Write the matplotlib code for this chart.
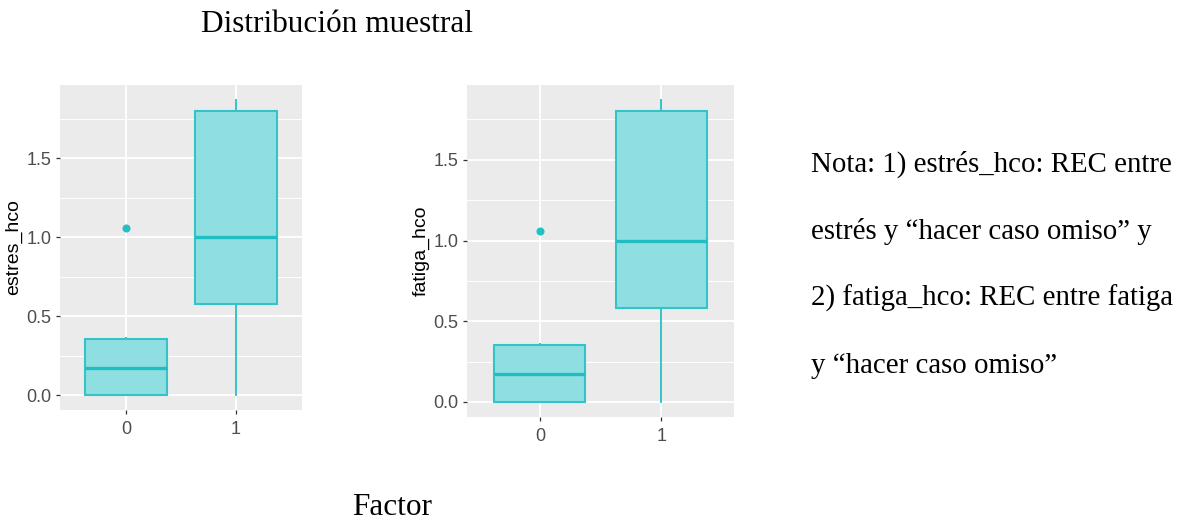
import matplotlib
matplotlib.use("Agg")
import matplotlib.pyplot as plt

# resumen de cajas por grupo (0 / 1)
grupos = ["0", "1"]
q1 = [0.0, 0.58]
mediana = [0.17, 1.0]
q3 = [0.355, 1.80]
bigote_inf = [0.0, 0.0]
bigote_sup = [0.36, 1.87]
atipicos = [[1.06], []]

variables = ["estres_hco", "fatiga_hco"]
ticks_y = [0.0, 0.5, 1.0, 1.5]
ticks_y_menores = [0.25, 0.75, 1.25, 1.75]

nota = [
    "Nota: 1) estrés_hco: REC entre",
    "estrés y \u201chacer caso omiso\u201d y",
    "2) fatiga_hco: REC entre fatiga",
    "y \u201chacer caso omiso\u201d",
]

RELLENO = "#8FDFE2"
BORDE = "#33C4C9"
MEDIANA = "#1FBEC3"
FONDO = "#EBEBEB"

fig = plt.figure(figsize=(11.86, 5.2), dpi=100)
posiciones = [
    [60 / 1186, 1 - 410 / 520, 242 / 1186, 325 / 520],
    [467 / 1186, 1 - 417 / 520, 267 / 1186, 332 / 520],
]

for var, pos in zip(variables, posiciones):
    ax = fig.add_axes(pos)
    stats = []
    for i in range(len(grupos)):
        stats.append(dict(q1=q1[i], med=mediana[i], q3=q3[i],
                          whislo=bigote_inf[i], whishi=bigote_sup[i],
                          fliers=atipicos[i], label=grupos[i]))
    ax.bxp(stats, positions=range(len(grupos)), widths=0.75,
           patch_artist=True, showcaps=False, zorder=3,
           boxprops=dict(facecolor=RELLENO, edgecolor=BORDE, linewidth=1.5),
           whiskerprops=dict(color=BORDE, linewidth=1.4),
           medianprops=dict(color=MEDIANA, linewidth=2.4),
           flierprops=dict(marker="o", markerfacecolor="#22C0C5",
                           markeredgecolor="#22C0C5", markersize=4.8))

    lo = min(bigote_inf)
    hi = max(bigote_sup + [v for a in atipicos for v in a])
    rango = hi - lo
    ax.set_ylim(lo - 0.05 * rango, hi + 0.05 * rango)
    ax.set_xlim(-0.6, len(grupos) - 0.4)

    ax.set_facecolor(FONDO)
    for s in ax.spines.values():
        s.set_visible(False)
    ax.set_yticks(ticks_y)
    ax.set_yticks(ticks_y_menores, minor=True)
    ax.set_yticklabels([f"{t:.1f}" for t in ticks_y])
    ax.grid(True, which="major", color="white", linewidth=1.3, zorder=0)
    ax.grid(True, which="minor", axis="y", color="white", linewidth=0.7, zorder=0)
    ax.set_axisbelow(True)
    ax.tick_params(axis="both", which="major", length=3, width=0.9,
                   color="#333333", labelcolor="#4D4D4D", labelsize=13, pad=3)
    ax.tick_params(axis="x", which="major", pad=5)
    ax.tick_params(axis="y", which="minor", length=0)
    for lab in ax.get_xticklabels() + ax.get_yticklabels():
        lab.set_family("Liberation Sans")
    ax.set_ylabel(var, fontsize=14, family="Liberation Sans", color="black", labelpad=3)

fig.text(337 / 1186, 1 - 32 / 520, "Distribución muestral", ha="center", va="baseline",
         family="Liberation Serif", fontsize=22.5)
fig.text(392 / 1186, 1 - 515 / 520, "Factor", ha="center", va="baseline",
         family="Liberation Serif", fontsize=22.5)

for k, linea in enumerate(nota):
    fig.text(811 / 1186, 1 - (172 + 67 * k) / 520, linea, ha="left", va="baseline",
             family="Liberation Serif", fontsize=20.8)

fig.savefig("out.png", dpi=100)
